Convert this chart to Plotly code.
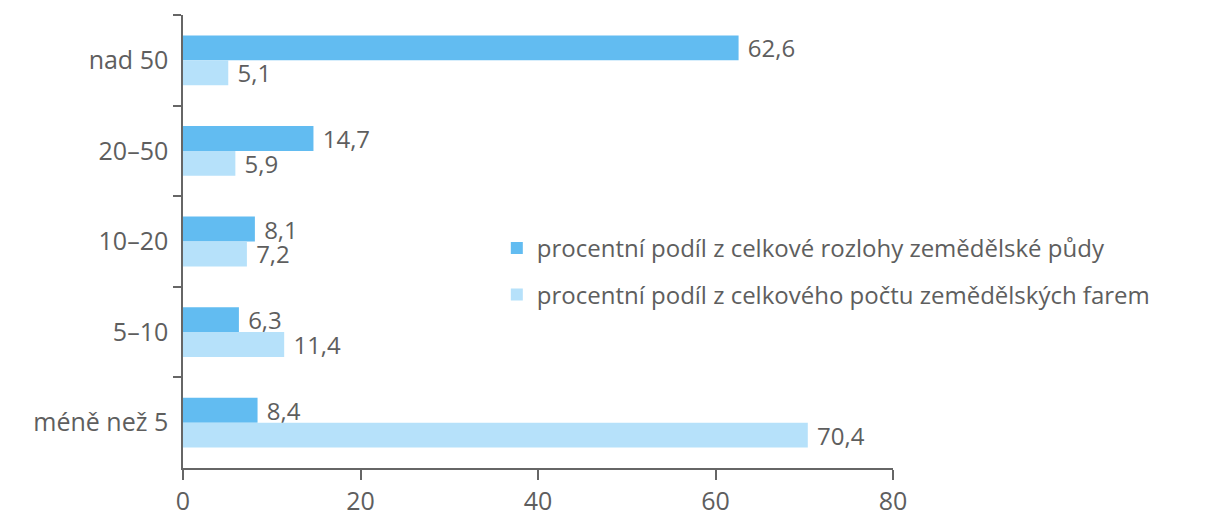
import plotly.graph_objects as go

categories = ["nad 50", "20–50", "10–20", "5–10", "méně než 5"]
area_share = [62.6, 14.7, 8.1, 6.3, 8.4]
farm_share = [5.1, 5.9, 7.2, 11.4, 70.4]
series_names = [
    "procentní podíl z celkové rozlohy zemědělské půdy",
    "procentní podíl z celkového počtu zemědělských farem",
]
x_ticks = [0, 20, 40, 60, 80]

def fmt(v):
    return f"{v:.1f}".replace(".", ",")

FONT = "Open Sans"
TXT = "#5e5e5e"
FS = 24

fig = go.Figure()
fig.add_trace(go.Bar(
    y=categories, x=area_share, orientation="h", name=series_names[0],
    marker=dict(color="#62bcf1", line=dict(width=0)),
    text=[fmt(v) for v in area_share], texttemplate="\u00a0%{text}",
    textposition="outside", constraintext="none",
    textfont=dict(family=FONT, size=FS, color=TXT), cliponaxis=False,
    legend="legend",
))
fig.add_trace(go.Bar(
    y=categories, x=farm_share, orientation="h", name=series_names[1],
    marker=dict(color="#b6e1fa", line=dict(width=0)),
    text=[fmt(v) for v in farm_share], texttemplate="\u00a0%{text}",
    textposition="outside", constraintext="none",
    textfont=dict(family=FONT, size=FS, color=TXT), cliponaxis=False,
    legend="legend2",
))

fig.update_layout(
    width=1217, height=516,
    margin=dict(l=175, r=332, t=7, b=53),
    paper_bgcolor="white", plot_bgcolor="white",
    barmode="group", bargap=0.45, bargroupgap=0,
    font=dict(family=FONT, size=FS, color=TXT),
    legend=dict(x=0.442, y=0.485, xanchor="left", yanchor="middle",
                bgcolor="rgba(0,0,0,0)", font=dict(family=FONT, size=24, color=TXT)),
    legend2=dict(x=0.442, y=0.382, xanchor="left", yanchor="middle",
                 bgcolor="rgba(0,0,0,0)", font=dict(family=FONT, size=24, color=TXT)),
    showlegend=True,
)
fig.update_xaxes(
    range=[0, 80], tickvals=x_ticks, ticktext=[str(t) for t in x_ticks],
    showgrid=False, zeroline=False, showline=True, linecolor="#666", linewidth=1.5,
    ticks="outside", ticklen=10, tickcolor="#666", tickwidth=1.5,
    tickfont=dict(family=FONT, size=25, color=TXT),
)
fig.update_yaxes(
    categoryorder="array", categoryarray=categories, autorange="reversed",
    showgrid=False, zeroline=False, showline=True, linecolor="#666", linewidth=1.5,
    ticks="outside", tickson="boundaries", ticklen=8, tickcolor="#666", tickwidth=1.5,
    tickfont=dict(family=FONT, size=25, color=TXT), ticklabelstandoff=8,
)

fig.write_html("out.html")
